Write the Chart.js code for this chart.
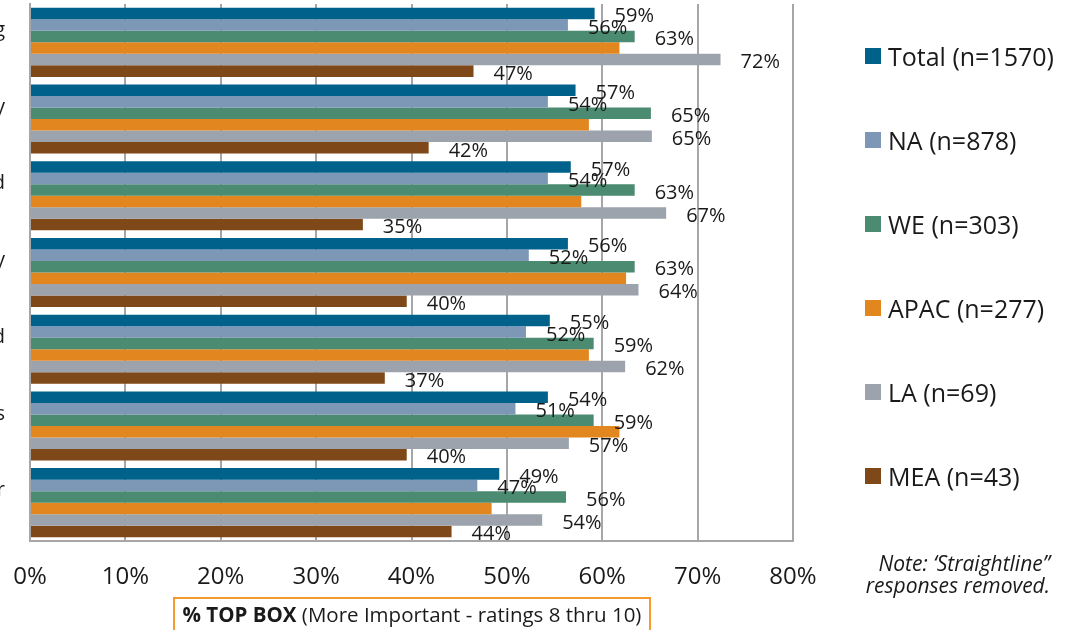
<!DOCTYPE html>
<html><head><meta charset="utf-8">
<script src="https://cdn.jsdelivr.net/npm/chart.js@4.4.1/dist/chart.umd.min.js"></script>
<style>
html,body{margin:0;padding:0;background:#fff;width:1067px;height:630px;overflow:hidden;font-family:"Open Sans",sans-serif;color:#1a1a1a;}
#c{position:absolute;left:0;top:0;}
.li{position:absolute;left:865px;white-space:nowrap;font-size:25px;line-height:30px;display:flex;align-items:center;transform:translateY(-50%);}
.sw{width:16px;height:16px;margin-right:7px;flex:none;}
#xtitle{position:absolute;left:173px;top:597px;width:478px;height:40px;border:2px solid #F59A2F;box-sizing:border-box;font-size:20.5px;line-height:30px;text-align:center;white-space:nowrap;}
#note{position:absolute;left:835px;top:552px;width:215px;font-size:21px;line-height:22px;font-style:italic;text-align:right;white-space:nowrap;}
</style></head><body>
<canvas id="c" width="1067" height="630"></canvas>
<div id="legend"></div>
<div id="xtitle"><b>% TOP BOX</b> (More Important - ratings 8 thru 10)</div>
<div id="note">Note: ‘Straightline”<br>responses removed.</div>
<script>
const categories = ['g','y','d','y','d','s','r'];
const seriesNames = ['Total (n=1570)','NA (n=878)','WE (n=303)','APAC (n=277)','LA (n=69)','MEA (n=43)'];
const total = [59.2, 57.2, 56.7, 56.4, 54.5, 54.3, 49.2];
const na    = [56.4, 54.3, 54.3, 52.3, 52.0, 50.9, 46.9];
const we    = [63.4, 65.1, 63.4, 63.4, 59.1, 59.1, 56.2];
const apac  = [61.8, 58.6, 57.8, 62.5, 58.6, 61.8, 48.4];
const la    = [72.4, 65.2, 66.7, 63.8, 62.4, 56.5, 53.7];
const mea   = [46.5, 41.8, 34.9, 39.5, 37.2, 39.5, 44.2];
const xTicks = [0,10,20,30,40,50,60,70,80];
const colors = ['#00618B','#7D97B7','#4B8B71','#E2861F','#9CA3AD','#7F4819'];
const showLabels = [true,true,true,false,true,true];
const values = [total,na,we,apac,la,mea];

const FONT = '"Open Sans", sans-serif';
const datasets = values.map((v,i)=>({
  label: seriesNames[i], data: v, backgroundColor: colors[i],
  borderWidth: 0,
  categoryPercentage: 0.9, barPercentage: 1.0, showLabels: showLabels[i]
}));

const dataLabelPlugin = {
  id:'dl',
  afterDatasetsDraw(chart){
    const ctx = chart.ctx;
    ctx.save();
    ctx.font = '20px ' + FONT;
    ctx.fillStyle = '#1a1a1a';
    ctx.textAlign = 'left'; ctx.textBaseline = 'middle';
    chart.data.datasets.forEach((ds,i)=>{
      if(!ds.showLabels) return;
      chart.getDatasetMeta(i).data.forEach((bar,j)=>{
        ctx.fillText(Math.round(ds.data[j]) + '%', bar.x + 20, bar.y + 3);
      });
    });
    ctx.restore();
  }
};

function zeroPad(s){ s.paddingTop = 0; s.paddingBottom = 0; s.paddingLeft = 0; s.paddingRight = 0; }

new Chart(document.getElementById('c'), {
  type:'bar',
  data:{labels:categories, datasets},
  options:{
    indexAxis:'y', responsive:false, animation:false, devicePixelRatio:1,
    layout:{padding:{left:0,right:274,top:4,bottom:0}, autoPadding:false},
    plugins:{legend:{display:false}, tooltip:{enabled:false}},
    scales:{
      x:{min:0,max:80,
        afterBuildTicks(s){ s.ticks = xTicks.map(v=>({value:v})); },
        ticks:{callback:v=>v+'%', font:{size:24,family:FONT}, color:'#1a1a1a', padding:22, maxRotation:0, autoSkip:false},
        grid:{color:'#A6A6A6', lineWidth:2, drawTicks:false},
        border:{color:'#A6A6A6', width:2},
        afterFit(s){ s.height = 89; zeroPad(s); }
      },
      y:{
        ticks:{font:{size:20,family:FONT}, color:'#1a1a1a', padding:25, labelOffset:-12, autoSkip:false},
        grid:{display:false, drawTicks:false},
        border:{color:'#A6A6A6', width:2},
        afterFit(s){ s.width = 30; zeroPad(s); }
      }
    }
  },
  plugins:[dataLabelPlugin]
});

const legendCenters = [56,140,224,308,392,476];
const lg = document.getElementById('legend');
seriesNames.forEach((n,i)=>{
  const d = document.createElement('div');
  d.className = 'li'; d.style.top = legendCenters[i] + 'px';
  d.innerHTML = '<span class="sw" style="background:'+colors[i]+'"></span><span>'+n+'</span>';
  lg.appendChild(d);
});
</script>
</body></html>
